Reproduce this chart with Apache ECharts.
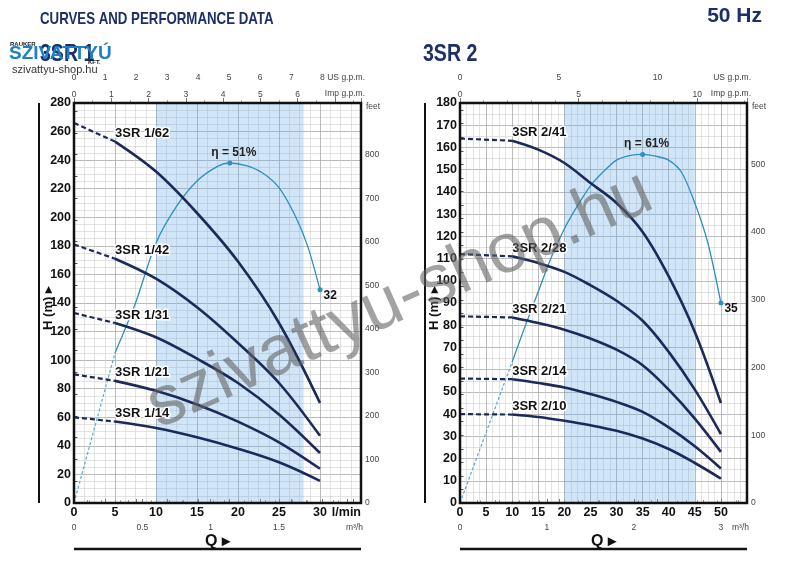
<!DOCTYPE html>
<html><head><meta charset="utf-8">
<script src="https://cdn.jsdelivr.net/npm/echarts@6/dist/echarts.min.js"></script>
<style>html,body{margin:0;padding:0;background:#fff}#c{width:800px;height:570px}</style>
</head><body><div id="c"></div>
<script>
// ---------- DATA : 3SR 1 (left) ----------
const q1Dash = [0, 5];
const q1 = [5, 10, 15, 20, 25, 30];
const h1_62Dash = [266, 253];
const h1_62 = [253, 232, 203, 169, 126, 70];
const h1_42Dash = [181, 171];
const h1_42 = [171, 157, 137, 112, 84, 47];
const h1_31Dash = [133, 126];
const h1_31 = [126, 116, 101, 84, 62, 35];
const h1_21Dash = [90, 85.5];
const h1_21 = [85.5, 78.5, 69, 57, 42.5, 24];
const h1_14Dash = [60, 57];
const h1_14 = [57, 52.5, 46, 38, 28.5, 15.5];
const names1 = ['3SR 1/62', '3SR 1/42', '3SR 1/31', '3SR 1/21', '3SR 1/14'];
const q1EffDash = [0, 5];
const eff1Dash = [0, 22.5];
const q1Eff = [5, 7.5, 10, 12.5, 15, 17.5, 19, 21, 23, 25, 27, 28.5, 30];
const eff1 = [22.5, 30, 39, 44.5, 48.3, 50.5, 51, 50.6, 49.5, 47.3, 43, 38.5, 32];
const band1 = [10, 28];

// ---------- DATA : 3SR 2 (right) ----------
const q2Dash = [0, 10];
const q2 = [10, 15, 20, 25, 30, 35, 40, 45, 50];
const h2_41Dash = [164, 163];
const h2_41 = [163, 159, 153, 144, 135, 122, 102, 77, 45];
const h2_28Dash = [112, 111];
const h2_28 = [111, 108, 104, 98, 91, 82, 68, 51, 31];
const h2_21Dash = [84, 83.5];
const h2_21 = [83.5, 81, 78, 74, 69, 62, 51, 38, 23];
const h2_14Dash = [56, 55.7];
const h2_14 = [55.7, 54, 52, 49, 45.5, 41, 34, 25.5, 15.5];
const h2_10Dash = [40, 39.8];
const h2_10 = [39.8, 38.7, 37, 35, 32.5, 29, 24.3, 18, 11];
const names2 = ['3SR 2/41', '3SR 2/28', '3SR 2/21', '3SR 2/14', '3SR 2/10'];
const q2EffDash = [0, 10];
const eff2Dash = [0, 24.7];
const q2Eff = [10, 12.5, 15, 17.5, 20, 22.5, 25, 27.5, 30, 32.5, 35, 37.5, 40, 42.5, 45, 47.5, 50];
const eff2 = [24.7, 31, 37, 43, 48, 52, 55.5, 58, 60, 60.8, 61, 60.7, 60, 57.8, 52.5, 45.5, 35];
const band2 = [20, 45];

// unit conversions (l/min per unit)
const LPM_US = 3.785, LPM_IMP = 4.546, LPM_M3H = 16.667, FT_PER_M = 3.28084;

// ---------- LAYOUT ----------
const FONT = '"Liberation Sans Narrow","Liberation Sans",Arial,sans-serif';
const NAVY = '#1c2f66', CURVE = '#1b2a5a', EFF = '#2f8fbe';
const G = [{left: 74, top: 103, width: 287, height: 400}, {left: 460, top: 103, width: 287, height: 400}];
const cfg = [
  {qMax: 35, hMax: 280, hInt: 20, hMinor: 4, effMax: 60, feetMinor: 2,
   usInt: 1, usMinor: 2, usLast: 8, impInt: 1, impMinor: 2, impLast: 6,
   m3Int: 0.5, m3Minor: 5, m3Last: 1.5},
  {qMax: 55, hMax: 180, hInt: 10, hMinor: 2, effMax: 70, feetMinor: 5,
   usInt: 5, usMinor: 5, usLast: 10, impInt: 5, impMinor: 5, impLast: 10,
   m3Int: 1, m3Minor: 5, m3Last: 3}
];
const small = {fontFamily: FONT, fontSize: 8.5, color: '#444'};

const xAxes = [], yAxes = [];
cfg.forEach((c, gi) => {
  // main Q axis
  xAxes.push({gridIndex: gi, type: 'value', position: 'bottom', min: 0, max: c.qMax, interval: 5,
    axisLine: {show: false}, axisTick: {show: false},
    axisLabel: {margin: 3, fontFamily: FONT, fontWeight: 'bold', fontSize: 12.5, color: '#111', alignMaxLabel: 'right',
      formatter: v => v === c.qMax ? 'l/min' : String(v)},
    splitLine: {show: true, showMinLine: false, showMaxLine: false, lineStyle: {color: '#a9a9a9', width: 0.8}},
    minorTick: {show: false, splitNumber: 4},
    minorSplitLine: {show: true, lineStyle: {color: '#d0d0d0', width: 0.6}}});
  // m3/h axis
  xAxes.push({gridIndex: gi, type: 'value', position: 'bottom', offset: 19, min: 0, max: c.qMax / LPM_M3H, interval: c.m3Int,
    axisLine: {show: true, lineStyle: {color: '#777', width: 1}},
    axisTick: {show: true, inside: true, length: 4, lineStyle: {color: '#777'}},
    minorTick: {show: true, splitNumber: c.m3Minor, length: 3, lineStyle: {color: '#999'}},
    axisLabel: Object.assign({margin: 1.5, formatter: v => v <= c.m3Last + 1e-6 ? String(v) : ''}, small),
    splitLine: {show: false}});
  // US gpm axis
  xAxes.push({gridIndex: gi, type: 'value', position: 'top', offset: 18, min: 0, max: c.qMax / LPM_US, interval: c.usInt,
    axisLine: {show: true, lineStyle: {color: '#777', width: 1}},
    axisTick: {show: true, length: 4, lineStyle: {color: '#777'}},
    minorTick: {show: true, splitNumber: c.usMinor, length: 2.5, lineStyle: {color: '#888'}},
    axisLabel: Object.assign({margin: 3, formatter: v => (Number.isInteger(v) && v <= c.usLast) ? String(v) : ''}, small),
    splitLine: {show: false}});
  // Imp gpm axis
  xAxes.push({gridIndex: gi, type: 'value', position: 'top', offset: 0, min: 0, max: c.qMax / LPM_IMP, interval: c.impInt,
    axisLine: {show: false},
    axisTick: {show: true, length: 5, lineStyle: {color: '#777'}},
    minorTick: {show: true, splitNumber: c.impMinor, length: 2.5, lineStyle: {color: '#888'}},
    axisLabel: Object.assign({margin: 4, formatter: v => (Number.isInteger(v) && v <= c.impLast) ? String(v) : ''}, small),
    splitLine: {show: false}});

  // H axis
  yAxes.push({gridIndex: gi, type: 'value', position: 'left', min: 0, max: c.hMax, interval: c.hInt,
    axisLine: {show: false}, axisTick: {show: false},
    axisLabel: {margin: 3, fontFamily: FONT, fontWeight: 'bold', fontSize: 12.5, color: '#111'},
    splitLine: {show: true, showMinLine: false, showMaxLine: false, lineStyle: {color: '#a9a9a9', width: 0.8}},
    minorTick: {show: false, splitNumber: c.hMinor},
    minorSplitLine: {show: true, lineStyle: {color: '#d0d0d0', width: 0.6}}});
  // feet axis
  yAxes.push({gridIndex: gi, type: 'value', position: 'right', min: 0, max: c.hMax * FT_PER_M, interval: 100,
    axisLine: {show: false},
    axisTick: {show: true, length: 3.5, lineStyle: {color: '#555'}},
    minorTick: {show: true, splitNumber: c.feetMinor, length: 3.5, lineStyle: {color: '#555'}},
    axisLabel: Object.assign({margin: 4, formatter: v => (v % 100 === 0 && v <= c.hMax * FT_PER_M - 40) ? String(v) : ''}, small),
    splitLine: {show: false}});
  // hidden efficiency axis
  yAxes.push({gridIndex: gi, type: 'value', position: 'right', min: 0, max: c.effMax, show: false, splitLine: {show: false}});
});

const zip = (a, b) => a.map((v, i) => [v, b[i]]);
const series = [];
function pumpSeries(gi, qd, hd, q, h, name, band) {
  const xi = gi * 4, yi = gi * 3;
  series.push({type: 'line', xAxisIndex: xi, yAxisIndex: yi, data: zip(qd, hd), showSymbol: false, silent: true,
    lineStyle: {color: CURVE, width: 2.2, type: [5, 3]}, z: 3});
  const s = {type: 'line', xAxisIndex: xi, yAxisIndex: yi, data: zip(q, h), showSymbol: false, smooth: 0.35, silent: true,
    lineStyle: {color: CURVE, width: 2.6}, z: 4,
    markPoint: {symbol: 'circle', symbolSize: 0, silent: true, animation: false,
      data: [{coord: [q[0], h[0]], label: {show: true, position: 'right', distance: 0, offset: [0, -8], formatter: name,
        fontFamily: FONT, fontWeight: 'bold', fontSize: 13, color: '#111', textBorderColor: '#fff', textBorderWidth: 3}}]}};
  if (band) {
    s.markArea = {silent: true, itemStyle: {color: 'rgba(100,170,230,0.30)'}, data: [[{xAxis: band[0]}, {xAxis: band[1]}]]};
  }
  series.push(s);
}
function effSeries(gi, qd, ed, q, e, peakIdx) {
  const xi = gi * 4, yi = gi * 3 + 2;
  series.push({type: 'line', xAxisIndex: xi, yAxisIndex: yi, data: zip(qd, ed), showSymbol: false, silent: true,
    lineStyle: {color: '#5aa9d3', width: 1.2, type: [3, 2]}, z: 2});
  const last = q.length - 1;
  series.push({type: 'line', xAxisIndex: xi, yAxisIndex: yi, data: zip(q, e), showSymbol: false, smooth: 0.3, silent: true,
    lineStyle: {color: EFF, width: 1.3}, z: 2,
    markPoint: {symbol: 'circle', symbolSize: 5, silent: true, itemStyle: {color: EFF},
      data: [
        {coord: [q[peakIdx], e[peakIdx]], label: {show: true, position: 'top', distance: 2, offset: [4, 0],
          formatter: 'η = ' + e[peakIdx] + '%', fontFamily: FONT, fontWeight: 'bold', fontSize: 12, color: '#222'}},
        {coord: [q[last], e[last]], label: {show: true, position: 'right', distance: 1, offset: [0, 6],
          formatter: String(e[last]), fontFamily: FONT, fontWeight: 'bold', fontSize: 12, color: '#111'}}
      ]}});
}

pumpSeries(0, q1Dash, h1_62Dash, q1, h1_62, names1[0], band1);
pumpSeries(0, q1Dash, h1_42Dash, q1, h1_42, names1[1]);
pumpSeries(0, q1Dash, h1_31Dash, q1, h1_31, names1[2]);
pumpSeries(0, q1Dash, h1_21Dash, q1, h1_21, names1[3]);
pumpSeries(0, q1Dash, h1_14Dash, q1, h1_14, names1[4]);
effSeries(0, q1EffDash, eff1Dash, q1Eff, eff1, 6);

pumpSeries(1, q2Dash, h2_41Dash, q2, h2_41, names2[0], band2);
pumpSeries(1, q2Dash, h2_28Dash, q2, h2_28, names2[1]);
pumpSeries(1, q2Dash, h2_21Dash, q2, h2_21, names2[2]);
pumpSeries(1, q2Dash, h2_14Dash, q2, h2_14, names2[3]);
pumpSeries(1, q2Dash, h2_10Dash, q2, h2_10, names2[4]);
effSeries(1, q2EffDash, eff2Dash, q2Eff, eff2, 10);

// ---------- decorations ----------
const smallFont = '8.5px ' + FONT;
const graphic = [];
G.forEach(g => {
  const R = g.left + g.width, B = g.top + g.height;
  graphic.push({type: 'rect', z: 50, silent: true, shape: {x: g.left, y: g.top, width: g.width, height: g.height},
    style: {fill: 'none', stroke: '#111', lineWidth: 2.5}});
  const lx = g.left - 35;
  graphic.push({type: 'line', z: 50, silent: true, shape: {x1: lx, y1: g.top, x2: lx, y2: B},
    style: {stroke: '#111', lineWidth: 2}});
  graphic.push({type: 'text', z: 50, silent: true, x: lx + 9, y: g.top + g.height / 2 + 5, rotation: Math.PI / 2,
    style: {text: 'H (m) ▸', font: 'bold 13px ' + FONT, fill: '#111', align: 'center', verticalAlign: 'middle'}});
  const by = B + 46;
  graphic.push({type: 'line', z: 50, silent: true, shape: {x1: g.left, y1: by, x2: R, y2: by},
    style: {stroke: '#111', lineWidth: 2.4}});
  graphic.push({type: 'text', z: 50, silent: true, x: g.left + g.width / 2, y: by - 7,
    style: {text: 'Q ▸', font: 'bold 16px ' + FONT, fill: '#111', align: 'center', verticalAlign: 'middle'}});
  // unit names
  graphic.push({type: 'text', z: 50, silent: true, x: R + 4, y: g.top - 25,
    style: {text: 'US g.p.m.', font: smallFont, fill: '#444', align: 'right', verticalAlign: 'middle'}});
  graphic.push({type: 'text', z: 50, silent: true, x: R + 4, y: g.top - 9,
    style: {text: 'Imp g.p.m.', font: smallFont, fill: '#444', align: 'right', verticalAlign: 'middle'}});
  graphic.push({type: 'text', z: 50, silent: true, x: R + 5, y: g.top + 4,
    style: {text: 'feet', font: smallFont, fill: '#444', align: 'left', verticalAlign: 'middle'}});
  graphic.push({type: 'text', z: 50, silent: true, x: R + 2, y: B + 25,
    style: {text: 'm³/h', font: smallFont, fill: '#444', align: 'right', verticalAlign: 'middle'}});
});
graphic.push(
  {type: 'text', silent: true, x: 40, y: 19, scaleX: 0.78, style: {text: 'CURVES AND PERFORMANCE DATA', font: 'bold 17px ' + FONT, fill: NAVY, verticalAlign: 'middle'}},
  {type: 'text', silent: true, x: 762, y: 16, style: {text: '50 Hz', font: 'bold 21px ' + FONT, fill: NAVY, align: 'right', verticalAlign: 'middle'}},
  {type: 'text', silent: true, x: 40, y: 55, scaleX: 0.85, style: {text: '3SR 1', font: 'bold 23px ' + FONT, fill: NAVY, verticalAlign: 'middle'}},
  {type: 'text', silent: true, x: 423, y: 55, scaleX: 0.85, style: {text: '3SR 2', font: 'bold 23px ' + FONT, fill: NAVY, verticalAlign: 'middle'}},
  {type: 'text', silent: true, x: 10, y: 44, style: {text: 'RAUKER', font: 'bold 6px ' + FONT, fill: '#222', verticalAlign: 'middle'}},
  {type: 'text', silent: true, x: 9, y: 54, style: {text: 'SZIVATTYÚ', font: 'bold 19px "Liberation Sans",Arial,sans-serif', fill: '#1f7fc4', verticalAlign: 'middle'}},
  {type: 'text', silent: true, x: 88, y: 62, style: {text: 'KFT.', font: 'bold 6px ' + FONT, fill: '#222', verticalAlign: 'middle'}},
  {type: 'text', silent: true, x: 12, y: 70, style: {text: 'szivattyu-shop.hu', font: '11px "Liberation Sans",Arial,sans-serif', fill: '#333', verticalAlign: 'middle'}},
  {type: 'text', silent: true, z: 100, x: 400, y: 300, rotation: 24 * Math.PI / 180,
    style: {text: 'szivattyu-shop.hu', font: '70px "Liberation Sans",Arial,sans-serif', fill: 'rgba(100,100,100,0.6)', align: 'center', verticalAlign: 'middle'}}
);

const chart = echarts.init(document.getElementById('c'));
chart.setOption({
  animation: false,
  backgroundColor: '#fff',
  grid: G.map(g => Object.assign({show: false, containLabel: false}, g)),
  xAxis: xAxes,
  yAxis: yAxes,
  series: series,
  graphic: graphic
});
</script>
</body></html>
